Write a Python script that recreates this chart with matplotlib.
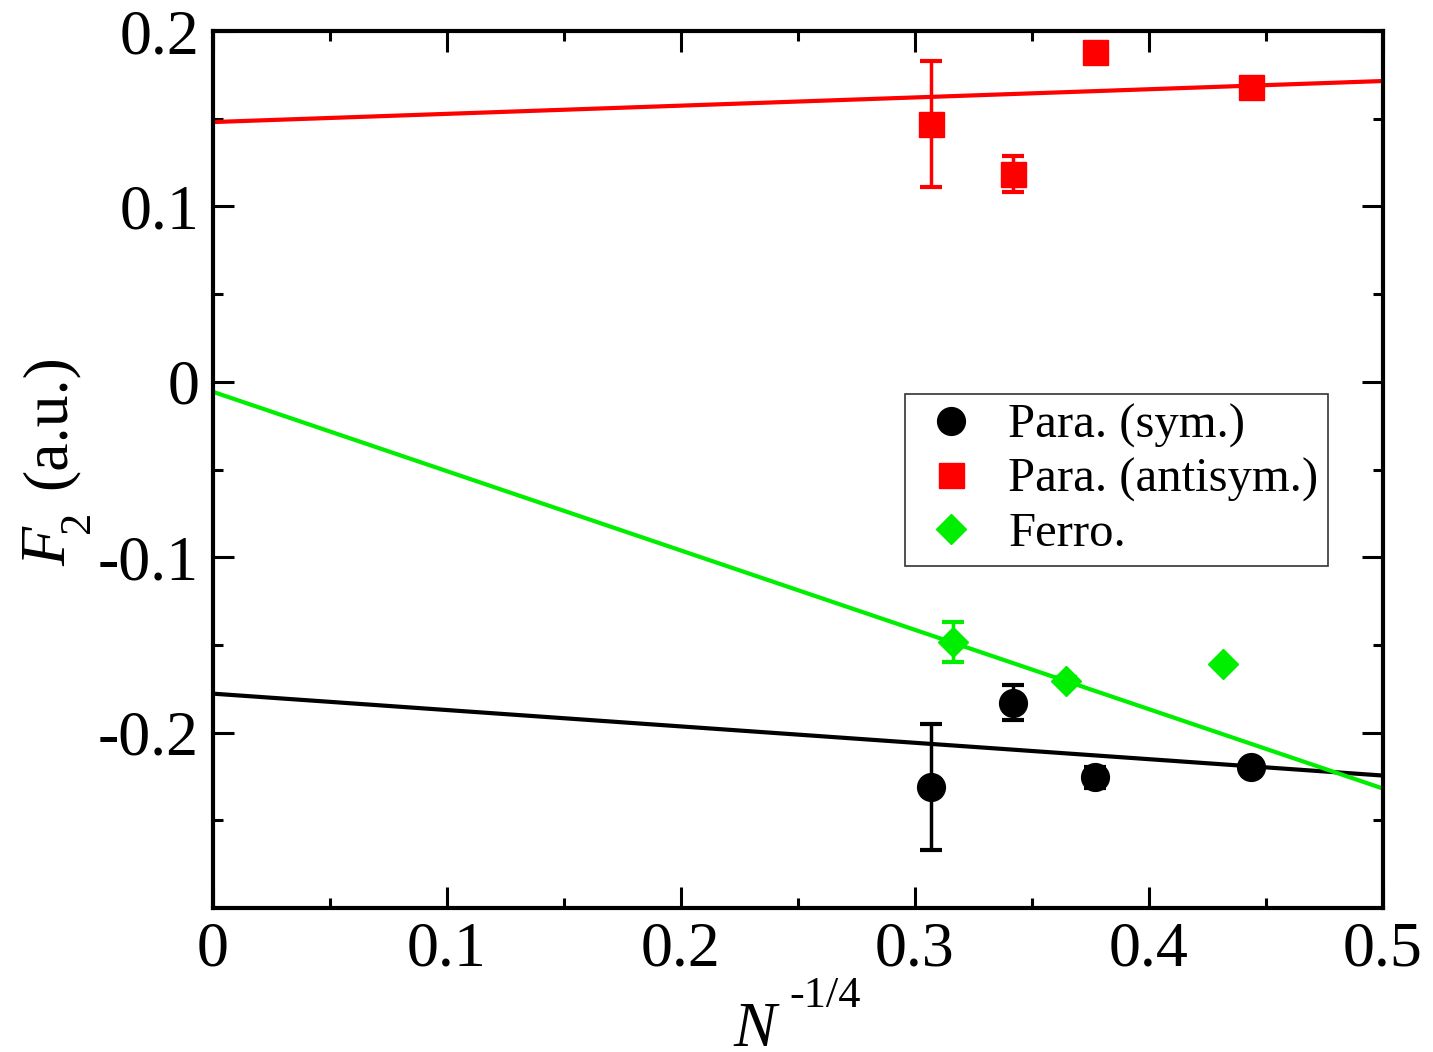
import matplotlib
matplotlib.use("Agg")
import matplotlib.pyplot as plt
import numpy as np

# ---- data ----
x_sym = [0.3068, 0.3419, 0.3769, 0.4436]
y_sym = [-0.2308, -0.1829, -0.2256, -0.2194]
e_sym = [0.0359, 0.0100, 0.0060, 0.0]

x_anti = [0.3068, 0.3419, 0.3769, 0.4436]
y_anti = [0.1470, 0.1185, 0.1880, 0.1681]
e_anti = [0.0359, 0.0100, 0.0, 0.0]

x_ferro = [0.3162, 0.3645, 0.4316]
y_ferro = [-0.1481, -0.1704, -0.1607]
e_ferro = [0.0114, 0.0020, 0.0]

# linear fits: (intercept, slope)
fit_sym = (-0.1778, -0.0934)
fit_anti = (0.1481, 0.0468)
fit_ferro = (-0.0057, -0.4524)

labels = ["Para. (sym.)", "Para. (antisym.)", "Ferro."]
xticks = [0, 0.1, 0.2, 0.3, 0.4, 0.5]
xticklabels = ["0", "0.1", "0.2", "0.3", "0.4", "0.5"]
yticks = [-0.2, -0.1, 0, 0.1, 0.2]
yticklabels = ["-0.2", "-0.1", "0", "0.1", "0.2"]

plt.rcParams['font.family'] = ['Liberation Serif', 'DejaVu Serif']
plt.rcParams['axes.unicode_minus'] = False

W, H = 1433, 1052
fig = plt.figure(figsize=(W / 100, H / 100), dpi=100)
ax = fig.add_axes([0.1486, 0.1369, 0.8165, 0.8336])

xs = np.array([0.0, 0.5])
for (b, m), c in [(fit_sym, 'black'), (fit_anti, 'red'), (fit_ferro, '#00ee00')]:
    ax.plot(xs, b + m * xs, color=c, lw=3.0, zorder=2)

series = [
    (x_sym, y_sym, e_sym, 'black', 'o', 20),
    (x_anti, y_anti, e_anti, 'red', 's', 18),
    (x_ferro, y_ferro, e_ferro, '#00ee00', 'D', 15),
]
handles = []
for (x, y, e, c, mk, ms), lab in zip(series, labels):
    ax.errorbar(x, y, yerr=e, fmt='none', ecolor=c, elinewidth=2.5,
                capsize=8, capthick=3, zorder=3)
    h, = ax.plot(x, y, ls='none', marker=mk, ms=ms, color=c, mec=c, zorder=4, label=lab)
    handles.append(h)

ax.set_xlim(0, 0.5)
ax.set_ylim(-0.3, 0.2)
ax.set_xticks(xticks)
ax.set_xticklabels(xticklabels)
ax.set_yticks(yticks)
ax.set_yticklabels(yticklabels)
ax.set_xticks(np.arange(0.05, 0.5, 0.1), minor=True)
ax.set_yticks(np.arange(-0.25, 0.2, 0.1), minor=True)
ax.tick_params(which='both', direction='in', top=True, right=True, width=2.2)
ax.tick_params(which='major', length=15, labelsize=46, pad=10)
ax.tick_params(which='minor', length=7.5)
for s in ax.spines.values():
    s.set_linewidth(3)

# axis labels placed as separate text pieces (pixel positions of figure)
def fx(px):
    return px / W

def fy(py):
    return 1 - py / H

# x label: N^{-1/4}
fig.text(fx(733), fy(1046), "N", fontsize=46, style='italic',
         ha='left', va='baseline')
fig.text(fx(789), fy(1007), "-1/4", fontsize=32, ha='left', va='baseline')

# y label: F_2 (a.u.)
fig.text(fx(65), fy(566), "F", fontsize=46, style='italic', rotation=90,
         rotation_mode='anchor', ha='left', va='baseline')
fig.text(fx(89), fy(533), "2", fontsize=32, rotation=90,
         rotation_mode='anchor', ha='left', va='baseline')
fig.text(fx(65), fy(489), "(a.u.)", fontsize=46, rotation=90,
         rotation_mode='anchor', ha='left', va='baseline')

leg = ax.legend(handles=handles, loc='upper left', bbox_to_anchor=(0.5915, 0.586),
                fontsize=35, frameon=True, fancybox=False, edgecolor='black',
                handletextpad=0.42, labelspacing=0.2, borderpad=0.2,
                handlelength=1.5, borderaxespad=0, markerscale=1.0)
leg.get_frame().set_linewidth(1.2)

fig.savefig('out.png', dpi=100)
